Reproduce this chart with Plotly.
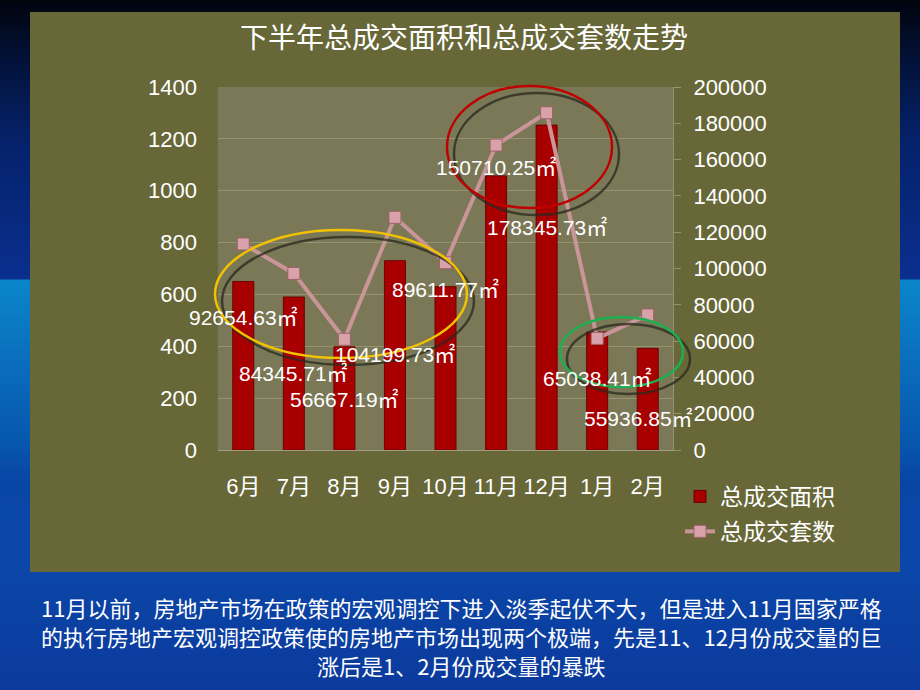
import plotly.graph_objects as go

# ---------------- data ----------------
months = ["6月", "7月", "8月", "9月", "10月", "11月", "12月", "1月", "2月"]
area_values = [650, 590, 398, 730, 630, 1057, 1253, 455, 392]          # left axis (bars)
deal_counts = [113500, 97300, 61000, 128200, 103200, 168000, 185800, 61500, 74400]  # right axis (line)
area_labels = ["92654.63㎡", "84345.71㎡", "56667.19㎡", "104199.73㎡", "89611.77㎡",
               "150710.25㎡", "178345.73㎡", "65038.41㎡", "55936.85㎡"]
left_ticks = [0, 200, 400, 600, 800, 1000, 1200, 1400]
right_ticks = [0, 20000, 40000, 60000, 80000, 100000, 120000, 140000, 160000, 180000, 200000]

title_text = "下半年总成交面积和总成交套数走势"
caption_lines = ["11月以前，房地产市场在政策的宏观调控下进入淡季起伏不大，但是进入11月国家严格",
                 "的执行房地产宏观调控政策使的房地产市场出现两个极端，先是11、12月份成交量的巨",
                 "涨后是1、2月份成交量的暴跌"]

# ---------------- layout geometry (pixels) ----------------
W, H = 920, 690
PL, PR, PT, PB = 218, 673, 87, 450
PW, PH = PR - PL, PB - PT

def px(x):
    return (x - PL) / PW

def py(y):
    return (PB - y) / PH

# label offsets (pixels below bar top / horizontal nudge)
label_dy = [36, 76, 53, 94, 3, -8, 102, 46, 70]
label_dx = [0, 0, 0, 0, 0, 0, 0, 0, -9]
caption_y = [607, 636, 665]

FONT = "Liberation Sans, Arial, Noto Sans CJK SC"
CJK = "Noto Sans CJK SC, Liberation Sans"

fig = go.Figure()
fig.add_trace(go.Bar(
    x=months, y=area_values, name="总成交面积",
    marker=dict(color="#a80000", line=dict(color="#6e0000", width=1)),
    yaxis="y", legendgroup="a",
))
fig.add_trace(go.Scatter(
    x=months, y=deal_counts, name="总成交套数", mode="lines+markers",
    line=dict(color="#c99598", width=4),
    marker=dict(symbol="square", size=12, color="#d9a2aa", line=dict(color="#9c6268", width=1)),
    yaxis="y2", legendgroup="b",
))

# ---------------- background shapes ----------------
def hex2rgb(h):
    h = h.lstrip("#")
    return tuple(int(h[i:i + 2], 16) for i in (0, 2, 4))

stops = [(0, "#01040c"), (60, "#031238"), (140, "#05216a"), (279, "#0a2f8e"),
         (280, "#0a86c9"), (360, "#0a6ebd"), (440, "#0758ad"), (480, "#0846a6"),
         (572, "#0b46a8"), (690, "#0b3a9c")]

def color_at(y):
    for (y0, c0), (y1, c1) in zip(stops[:-1], stops[1:]):
        if y0 <= y <= y1:
            t = 0 if y1 == y0 else (y - y0) / (y1 - y0)
            a, b = hex2rgb(c0), hex2rgb(c1)
            return "rgb(%d,%d,%d)" % tuple(round(a[i] + (b[i] - a[i]) * t) for i in range(3))
    return stops[-1][1]

shapes = []
step = 5
for y0 in range(0, H, step):
    y1 = min(y0 + step, H)
    shapes.append(dict(type="rect", xref="paper", yref="paper", layer="below",
                       x0=px(-5), x1=px(W + 5), y0=py(y0 - 0.5), y1=py(y1 + 0.5),
                       fillcolor=color_at(y0 + step / 2), line=dict(width=0)))
# olive panel
shapes.append(dict(type="rect", xref="paper", yref="paper", layer="below",
                   x0=px(30), x1=px(900), y0=py(12), y1=py(572),
                   fillcolor="#676738", line=dict(width=0)))
# plot area
shapes.append(dict(type="rect", xref="paper", yref="paper", layer="below",
                   x0=0, x1=1, y0=0, y1=1,
                   fillcolor="#7a7856", line=dict(width=0)))

# highlight ellipses (shadow + coloured ring)
ellipses = [
    ((215, 230, 467, 358), "#f2c200"),
    ((447, 86, 612, 208), "#c00000"),
    ((560, 317, 683, 387), "#1db050"),
]
for (x0, y0, x1, y1), col in ellipses:
    shapes.append(dict(type="circle", xref="paper", yref="paper", layer="above",
                       x0=px(x0 + 7), x1=px(x1 + 7), y0=py(y0 + 7), y1=py(y1 + 7),
                       line=dict(color="rgba(40,40,30,0.75)", width=2.5)))
    shapes.append(dict(type="circle", xref="paper", yref="paper", layer="above",
                       x0=px(x0), x1=px(x1), y0=py(y0), y1=py(y1),
                       line=dict(color=col, width=2.5)))

# ---------------- annotations ----------------
annotations = []
for m, v, lab, dy, dx in zip(months, area_values, area_labels, label_dy, label_dx):
    annotations.append(dict(x=m, y=v, xref="x", yref="y", text=lab, showarrow=False,
                            yshift=-dy, xshift=dx, xanchor="center", yanchor="middle",
                            font=dict(family=FONT, size=21, color="white")))
for line, yy in zip(caption_lines, caption_y):
    annotations.append(dict(x=px(461), y=py(yy), xref="paper", yref="paper",
                            text=line, showarrow=False, align="center", borderpad=0,
                            xanchor="center", yanchor="middle",
                            font=dict(family=CJK, size=22, color="white")))

fig.update_layout(
    width=W, height=H,
    margin=dict(l=PL, r=W - PR, t=PT, b=H - PB, pad=0),
    paper_bgcolor="#0b3a9c",
    plot_bgcolor="rgba(0,0,0,0)",
    title=dict(text=title_text, x=464 / W, xanchor="center", xref="container",
               y=1 - 38 / H, yanchor="middle", yref="container",
               font=dict(family=CJK, size=28, color="white")),
    bargap=0.585,
    showlegend=True,
    legend=dict(x=px(680), y=py(475), xanchor="left", yanchor="top",
                xref="paper", yref="paper",
                bgcolor="rgba(0,0,0,0)", traceorder="grouped", tracegroupgap=2,
                itemwidth=30,
                font=dict(family=CJK, size=23, color="white")),
    xaxis=dict(type="category", range=[-0.5, 8.5], showgrid=False, showline=True,
               linecolor="#a09e80", linewidth=1, ticks="", ticklabelstandoff=17,
               tickangle=0,
               tickfont=dict(family=FONT, size=22, color="white"), zeroline=False),
    yaxis=dict(range=[0, 1400], tickvals=left_ticks, showgrid=True, gridcolor="#959372",
               gridwidth=1, zeroline=False, showline=False, ticks="", ticklabelstandoff=20,
               tickfont=dict(family=FONT, size=22, color="white")),
    yaxis2=dict(range=[0, 200000], tickvals=right_ticks, tickformat="d", overlaying="y",
                side="right", showgrid=False, zeroline=False, showline=True,
                linecolor="#959372", ticks="outside", ticklen=7, tickcolor="#959372",
                ticklabelstandoff=8,
                tickfont=dict(family=FONT, size=22, color="white")),
    shapes=shapes,
    annotations=annotations,
)

fig.write_html("out.html")
